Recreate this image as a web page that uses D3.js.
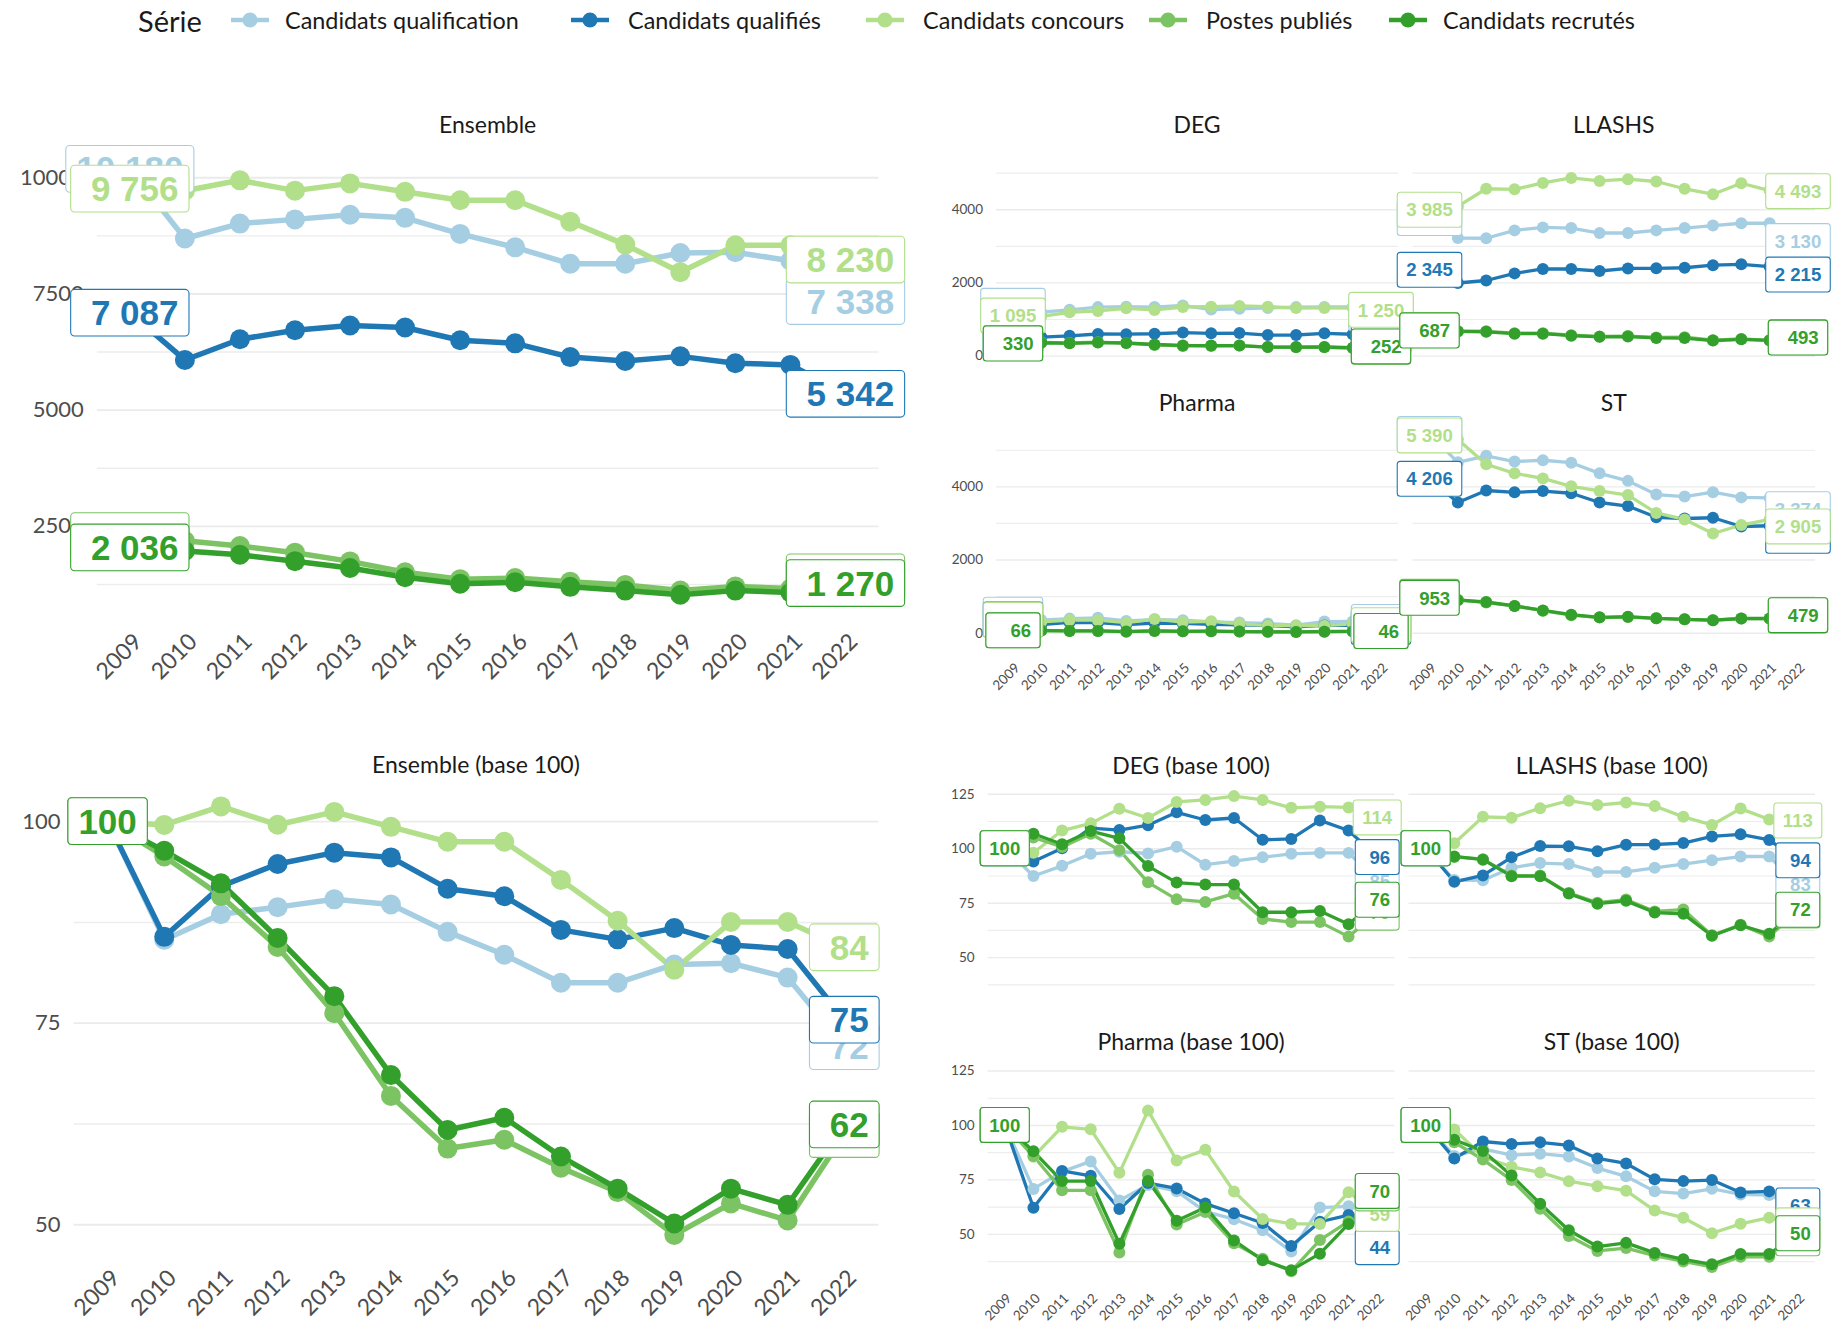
<!DOCTYPE html>
<html>
<head>
<meta charset="utf-8">
<script src="https://cdn.jsdelivr.net/npm/d3@7"></script>
<style>
  body { margin: 0; background: #fff; }
  svg text { font-family: Lato, "Open Sans", sans-serif; }
  .lab text { font-family: "Liberation Sans", Arial, sans-serif; font-weight: bold; white-space: pre; }
</style>
</head>
<body>
<div id="chart"></div>
<script>
var years = ["2009","2010","2011","2012","2013","2014","2015","2016","2017","2018","2019","2020","2021","2022"];
var seriesNames = ["Candidats qualification", "Candidats qualifiés", "Candidats concours", "Postes publiés", "Candidats recrutés"];
var seriesColors = ["#a6cee3", "#1f78b4", "#b2df8a", "#7cc463", "#33a02c"];

// Ensemble
var ensQualif    = [10180, 8683, 9004, 9094, 9193, 9127, 8782, 8493, 8139, 8139, 8370, 8386, 8205, 7338];
var ensQualifies = [7087, 6070, 6515, 6710, 6810, 6768, 6493, 6427, 6131, 6048, 6147, 5999, 5963, 5342];
var ensConcours  = [9756, 9710, 9934, 9712, 9868, 9687, 9506, 9506, 9045, 8551, 7958, 8535, 8535, 8230];
var ensPostes    = [2280, 2180, 2068, 1924, 1737, 1503, 1354, 1379, 1300, 1231, 1110, 1199, 1151, 1395];
var ensRecrutes  = [2036, 1961, 1879, 1741, 1594, 1395, 1256, 1287, 1189, 1108, 1020, 1108, 1067, 1270];

// DEG
var degQualif    = [1360, 1187, 1250, 1325, 1338, 1327, 1370, 1257, 1280, 1303, 1325, 1331, 1331, 1156];
var degQualifies = [540, 507, 540, 590, 585, 597, 629, 610, 615, 561, 563, 609, 584, 518];
var degConcours  = [1095, 1072, 1184, 1220, 1294, 1247, 1328, 1338, 1357, 1338, 1298, 1304, 1300, 1250];
var degPostes    = [345, 362, 347, 368, 342, 291, 264, 260, 273, 233, 228, 228, 205, 243];
var degRecrutes  = [330, 352, 336, 356, 345, 303, 278, 275, 275, 233, 233, 235, 215, 252];

// LLASHS
var llashsQualif    = [3760, 3211, 3207, 3422, 3504, 3486, 3350, 3350, 3422, 3486, 3553, 3617, 3617, 3130];
var llashsQualifies = [2345, 1984, 2052, 2247, 2368, 2366, 2312, 2383, 2385, 2401, 2472, 2495, 2434, 2215];
var llashsConcours  = [3985, 4077, 4559, 4543, 4718, 4854, 4774, 4822, 4758, 4559, 4411, 4710, 4511, 4493];
var llashsPostes    = [700, 672, 665, 612, 612, 556, 525, 535, 497, 503, 420, 454, 416, 500];
var llashsRecrutes  = [687, 661, 651, 599, 599, 544, 512, 521, 484, 480, 411, 444, 417, 493];

// Pharma
var pharmaQualif    = [490, 346, 385, 408, 320, 355, 341, 295, 278, 253, 205, 304, 307, 294];
var pharmaQualifies = [360, 223, 284, 276, 221, 264, 255, 230, 214, 198, 160, 200, 211, 158];
var pharmaConcours  = [350, 299, 347, 343, 273, 373, 293, 310, 243, 199, 191, 191, 242, 207];
var pharmaPostes    = [70, 60, 49, 49, 29, 54, 38, 42, 32, 27, 23, 33, 39, 48];
var pharmaRecrutes  = [66, 58, 49, 49, 30, 49, 37, 41, 31, 25, 22, 27, 36, 46];

// ST
var stQualif    = [5430, 4656, 4833, 4677, 4713, 4646, 4355, 4149, 3774, 3720, 3839, 3698, 3682, 3374];
var stQualifies = [4206, 3558, 3886, 3836, 3870, 3811, 3558, 3462, 3155, 3121, 3142, 2902, 2923, 2650];
var stConcours  = [5390, 5277, 4603, 4355, 4215, 3999, 3875, 3762, 3272, 3094, 2711, 2943, 3094, 2905];
var stPostes    = [980, 902, 824, 732, 603, 480, 413, 426, 392, 366, 341, 387, 387, 470];
var stRecrutes  = [953, 888, 839, 732, 608, 492, 421, 437, 393, 365, 343, 388, 388, 479];

var facets = {
  "Ensemble": [ensQualif, ensQualifies, ensConcours, ensPostes, ensRecrutes],
  "DEG": [degQualif, degQualifies, degConcours, degPostes, degRecrutes],
  "LLASHS": [llashsQualif, llashsQualifies, llashsConcours, llashsPostes, llashsRecrutes],
  "Pharma": [pharmaQualif, pharmaQualifies, pharmaConcours, pharmaPostes, pharmaRecrutes],
  "ST": [stQualif, stQualifies, stConcours, stPostes, stRecrutes]
};

var width = 1838, height = 1322;
var svg = d3.select("#chart").append("svg").attr("width", width).attr("height", height);

var fr = d3.formatLocale({decimal: ",", thousands: " ", grouping: [3], currency: ["", " €"]});
var fmtNum = fr.format(",d");

function toBase(a) { return a.map(function(v) { return v / a[0] * 100; }); }
function baseSet(list) { return list.map(toBase); }
function expand(lists) {
  var all = [];
  lists.forEach(function(l) { l.forEach(function(s) { all = all.concat(s); }); });
  var mn = d3.min(all), mx = d3.max(all), e = (mx - mn) * 0.05;
  return [mn - e, mx + e];
}

var big = {line: 5.5, r: 10, fs: 35, padX: 10.5, padY: 10.8, rx: 4, ytick: 22, xtick: 23, grid: 1.8, xdx: 13};
var small = {line: 3.3, r: 6, fs: 18.6, padX: 9, padY: 10.8, rx: 3, ytick: 13.5, xtick: 13.5, grid: 1.4, xdx: 7};

function addLabel(g, xp, yp, txt, color, sz) {
  var lg = g.append("g").attr("class", "lab");
  var t = lg.append("text")
    .attr("xml:space", "preserve")
    .attr("x", xp).attr("y", yp).attr("dy", "0.36em")
    .attr("text-anchor", "middle")
    .style("font-size", sz.fs + "px")
    .attr("fill", color)
    .text(txt);
  var tw = t.node().getComputedTextLength();
  var capH = 0.716 * sz.fs;
  lg.insert("rect", "text")
    .attr("x", xp - tw / 2 - sz.padX)
    .attr("y", yp - capH / 2 - sz.padY)
    .attr("width", tw + 2 * sz.padX)
    .attr("height", capH + 2 * sz.padY)
    .attr("rx", sz.rx)
    .attr("fill", "#fff")
    .attr("stroke", color)
    .attr("stroke-width", 1.1);
}

function drawPanel(c) {
  var sz = c.size;
  var g = svg.append("g");
  var x = d3.scalePoint().domain(years).range([c.x0, c.x1]).padding(0.6);
  var y = d3.scaleLinear().domain(c.domain).range([c.y1, c.y0]);
  var w = c.x1 - c.x0;
  var inDom = function(v) { return v >= c.domain[0] && v <= c.domain[1]; };

  // minor grid
  g.append("g").attr("transform", "translate(" + c.x0 + ",0)")
    .call(d3.axisLeft(y).tickValues(c.minors.filter(inDom)).tickSize(-w).tickFormat(""))
    .call(function(s) { s.select(".domain").remove(); })
    .selectAll("line").attr("stroke", "#ededed").attr("stroke-width", sz.grid * 0.8);

  // major grid + y labels
  var ya = g.append("g").attr("transform", "translate(" + c.x0 + ",0)")
    .call(d3.axisLeft(y).tickValues(c.majors.filter(inDom)).tickSize(-w).tickPadding(13)
      .tickFormat(c.showY ? d3.format("d") : ""))
    .call(function(s) { s.select(".domain").remove(); });
  ya.selectAll("line").attr("stroke", "#ebebeb").attr("stroke-width", sz.grid);
  ya.selectAll("text").attr("fill", "#4d4d4d").style("font-size", sz.ytick + "px")
    .style("font-family", "Lato, sans-serif");

  // x labels
  if (c.showX) {
    var xa = g.append("g").attr("transform", "translate(0," + c.y1 + ")")
      .call(d3.axisBottom(x).tickSize(0))
      .call(function(s) { s.select(".domain").remove(); });
    xa.selectAll("text")
      .attr("x", 0).attr("y", 0).attr("dy", 0)
      .attr("text-anchor", "end")
      .attr("transform", "translate(" + sz.xdx + "," + c.xdy + ") rotate(-45)")
      .attr("fill", "#4d4d4d")
      .style("font-size", sz.xtick + "px")
      .style("font-family", "Lato, sans-serif");
  }

  // title
  g.append("text")
    .attr("x", (c.x0 + c.x1) / 2).attr("y", c.titleY)
    .attr("text-anchor", "middle").attr("dominant-baseline", "central")
    .attr("fill", "#1a1a1a").style("font-size", "23px")
    .text(c.title);

  var line = d3.line().x(function(d, i) { return x(years[i]); }).y(function(d) { return y(d); });

  c.data.forEach(function(s, k) {
    g.append("path").datum(s)
      .attr("d", line).attr("fill", "none")
      .attr("stroke", seriesColors[k]).attr("stroke-width", sz.line)
      .attr("stroke-linejoin", "round");
  });
  c.data.forEach(function(s, k) {
    g.append("g").selectAll("circle").data(s).enter().append("circle")
      .attr("cx", function(d, i) { return x(years[i]); })
      .attr("cy", function(d) { return y(d); })
      .attr("r", sz.r).attr("fill", seriesColors[k]);
  });
  c.data.forEach(function(s, k) {
    [0, s.length - 1].forEach(function(i) {
      var txt = c.base ? String(Math.round(s[i])) : fmtNum(Math.round(s[i]));
      txt = txt.padStart(c.padTo, " ");
      addLabel(g, x(years[i]), y(s[i]), txt, seriesColors[k], sz);
    });
  });
}

// ---- raw panels
var ensDom = expand([facets.Ensemble]);
drawPanel({x0: 96.8, x1: 878.5, y0: 147.6, y1: 616, title: "Ensemble", titleY: 124,
  data: facets.Ensemble, domain: ensDom, majors: [2500, 5000, 7500, 10000], minors: [1250, 3750, 6250, 8750],
  showY: true, showX: true, size: big, base: false, padTo: 6, xdy: 27});

var smallNames = ["DEG", "LLASHS", "Pharma", "ST"];
var rawDom = expand(smallNames.map(function(n) { return facets[n]; }));
var colX = [[996, 1398], [1412.5, 1815]];
var rawRows = [[147, 364.7, 124], [424.1, 641.8, 402]];
smallNames.forEach(function(n, i) {
  var col = i % 2, row = Math.floor(i / 2);
  drawPanel({x0: colX[col][0], x1: colX[col][1], y0: rawRows[row][0], y1: rawRows[row][1],
    title: n, titleY: rawRows[row][2], data: facets[n], domain: rawDom,
    majors: [0, 2000, 4000], minors: [1000, 3000, 5000],
    showY: col === 0, showX: row === 1, size: small, base: false, padTo: 5, xdy: 27});
});

// ---- base 100 panels
var ensBase = baseSet(facets.Ensemble);
drawPanel({x0: 73.6, x1: 878.3, y0: 785, y1: 1256.3, title: "Ensemble (base 100)", titleY: 764,
  data: ensBase, domain: expand([ensBase]), majors: [50, 75, 100], minors: [62.5, 87.5],
  showY: true, showX: true, size: big, base: true, padTo: 3, xdy: 23});

var baseSets = smallNames.map(function(n) { return baseSet(facets[n]); });
var baseDom = expand(baseSets);
var colXb = [[987.6, 1394.4], [1408.5, 1815]];
var baseRows = [[786.2, 1004.4, 764.7], [1062.9, 1281.1, 1041.4]];
smallNames.forEach(function(n, i) {
  var col = i % 2, row = Math.floor(i / 2);
  drawPanel({x0: colXb[col][0], x1: colXb[col][1], y0: baseRows[row][0], y1: baseRows[row][1],
    title: n + " (base 100)", titleY: baseRows[row][2], data: baseSets[i], domain: baseDom,
    majors: [50, 75, 100, 125], minors: [37.5, 62.5, 87.5, 112.5],
    showY: col === 0, showX: row === 1, size: small, base: true, padTo: 3, xdy: 18});
});

// ---- legend
var legKeyX = [250, 590, 885, 1168, 1408];
var legTextX = [285, 628, 923, 1206, 1443];
var leg = svg.append("g");
leg.append("text").attr("x", 138).attr("y", 20).attr("dominant-baseline", "central")
  .attr("fill", "#1a1a1a").style("font-size", "29px").text("Série");
seriesNames.forEach(function(name, k) {
  var cx = legKeyX[k];
  leg.append("line").attr("x1", cx - 19).attr("x2", cx + 19).attr("y1", 20).attr("y2", 20)
    .attr("stroke", seriesColors[k]).attr("stroke-width", 4.6);
  leg.append("circle").attr("cx", cx).attr("cy", 20).attr("r", 7.6).attr("fill", seriesColors[k]);
  leg.append("text").attr("x", legTextX[k]).attr("y", 20).attr("dominant-baseline", "central")
    .attr("fill", "#1a1a1a").style("font-size", "23.4px").text(name);
});
</script>
</body>
</html>
